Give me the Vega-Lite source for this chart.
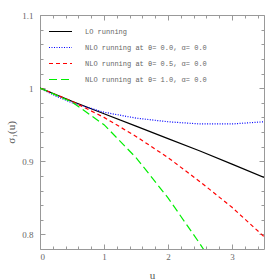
{
  "$schema": "https://vega.github.io/schema/vega-lite/v6.json",
  "width": 224,
  "height": 234,
  "autosize": "none",
  "padding": {"left": 40, "top": 15, "right": 15, "bottom": 30},
  "config": {
    "view": {"stroke": null},
    "font": "Liberation Serif",
    "axis": {"grid": false, "domainColor": "#999", "tickColor": "#999", "labelColor": "#666", "titleColor": "#555", "labelFont": "Liberation Serif", "titleFont": "Liberation Serif", "labelFontSize": 9, "titleFontSize": 11, "titleFontWeight": "normal"},
    "legend": {"labelFont": "Liberation Mono", "labelColor": "#666"}
  },
  "data": {"values": [
    {"u": 0, "v": 1, "s": "LO running"},
    {"u": 0.5, "v": 0.982, "s": "LO running"},
    {"u": 1, "v": 0.965, "s": "LO running"},
    {"u": 1.5, "v": 0.948, "s": "LO running"},
    {"u": 2, "v": 0.931, "s": "LO running"},
    {"u": 2.5, "v": 0.914, "s": "LO running"},
    {"u": 3, "v": 0.896, "s": "LO running"},
    {"u": 3.5, "v": 0.878, "s": "LO running"},
    {"u": 0, "v": 1, "s": "NLO running at θ= 0.0, α= 0.0"},
    {"u": 0.25, "v": 0.989, "s": "NLO running at θ= 0.0, α= 0.0"},
    {"u": 0.5, "v": 0.98, "s": "NLO running at θ= 0.0, α= 0.0"},
    {"u": 1, "v": 0.967, "s": "NLO running at θ= 0.0, α= 0.0"},
    {"u": 1.5, "v": 0.959, "s": "NLO running at θ= 0.0, α= 0.0"},
    {"u": 2, "v": 0.954, "s": "NLO running at θ= 0.0, α= 0.0"},
    {"u": 2.5, "v": 0.951, "s": "NLO running at θ= 0.0, α= 0.0"},
    {"u": 3, "v": 0.951, "s": "NLO running at θ= 0.0, α= 0.0"},
    {"u": 3.5, "v": 0.954, "s": "NLO running at θ= 0.0, α= 0.0"},
    {"u": 0, "v": 1, "s": "NLO running at θ= 0.5, α= 0.0"},
    {"u": 0.5, "v": 0.982, "s": "NLO running at θ= 0.5, α= 0.0"},
    {"u": 1, "v": 0.96, "s": "NLO running at θ= 0.5, α= 0.0"},
    {"u": 1.5, "v": 0.934, "s": "NLO running at θ= 0.5, α= 0.0"},
    {"u": 2, "v": 0.905, "s": "NLO running at θ= 0.5, α= 0.0"},
    {"u": 2.5, "v": 0.872, "s": "NLO running at θ= 0.5, α= 0.0"},
    {"u": 3, "v": 0.837, "s": "NLO running at θ= 0.5, α= 0.0"},
    {"u": 3.5, "v": 0.797, "s": "NLO running at θ= 0.5, α= 0.0"},
    {"u": 0, "v": 1, "s": "NLO running at θ= 1.0, α= 0.0"},
    {"u": 0.5, "v": 0.981, "s": "NLO running at θ= 1.0, α= 0.0"},
    {"u": 1, "v": 0.95, "s": "NLO running at θ= 1.0, α= 0.0"},
    {"u": 1.5, "v": 0.905, "s": "NLO running at θ= 1.0, α= 0.0"},
    {"u": 2, "v": 0.85, "s": "NLO running at θ= 1.0, α= 0.0"},
    {"u": 2.5, "v": 0.787, "s": "NLO running at θ= 1.0, α= 0.0"},
    {"u": 2.7, "v": 0.76, "s": "NLO running at θ= 1.0, α= 0.0"}
  ]},
  "layer": [
    {
      "transform": [{"filter": {"field": "s", "equal": "LO running"}}],
      "mark": {"type": "line", "clip": true, "strokeWidth": 1.2},
      "encoding": {
        "x": {"field": "u", "type": "quantitative", "scale": {"domain": [0, 3.5], "nice": false, "zero": false},
              "axis": {"orient": "bottom", "values": [0, 1, 2, 3], "tickSize": -5, "labelPadding": 8, "title": "u", "titlePadding": 8}},
        "y": {"field": "v", "type": "quantitative", "scale": {"domain": [0.78, 1.1], "nice": false, "zero": false},
              "axis": {"orient": "left", "values": [0.8, 0.9, 1, 1.1], "tickSize": -5, "labelPadding": 12, "title": "σ₁(u)", "titlePadding": 5, "format": "~g"}},
        "color": {"field": "s", "type": "nominal",
                  "scale": {"domain": ["LO running", "NLO running at θ= 0.0, α= 0.0", "NLO running at θ= 0.5, α= 0.0", "NLO running at θ= 1.0, α= 0.0"], "range": ["#000000", "#0000ff", "#ff0000", "#00ee00"]},
                  "legend": {"title": null, "orient": "none", "legendX": 8, "legendY": 4, "symbolType": "stroke", "symbolSize": 529, "symbolStrokeWidth": 1.2, "labelFontSize": 7, "rowPadding": 0, "labelOffset": 12,
                             "encode": {"symbols": {"update": {"stroke": {"scale": "color", "field": "value"}, "strokeDash": {"signal": "datum.value === 'NLO running at θ= 0.0, α= 0.0' ? [1, 1.5] : datum.value === 'NLO running at θ= 0.5, α= 0.0' ? [4, 3] : datum.value === 'NLO running at θ= 1.0, α= 0.0' ? [8, 4] : [1, 0]"}}}}}}
      }
    },
    {
      "transform": [{"filter": {"field": "s", "equal": "NLO running at θ= 0.0, α= 0.0"}}],
      "mark": {"type": "line", "clip": true, "strokeWidth": 1.2, "strokeDash": [1, 1.5]},
      "encoding": {
        "x": {"field": "u", "type": "quantitative", "axis": null},
        "y": {"field": "v", "type": "quantitative", "axis": null},
        "color": {"field": "s", "type": "nominal"}
      }
    },
    {
      "transform": [{"filter": {"field": "s", "equal": "NLO running at θ= 0.5, α= 0.0"}}],
      "mark": {"type": "line", "clip": true, "strokeWidth": 1.2, "strokeDash": [4, 3]},
      "encoding": {
        "x": {"field": "u", "type": "quantitative", "axis": null},
        "y": {"field": "v", "type": "quantitative", "axis": null},
        "color": {"field": "s", "type": "nominal"}
      }
    },
    {
      "transform": [{"filter": {"field": "s", "equal": "NLO running at θ= 1.0, α= 0.0"}}],
      "mark": {"type": "line", "clip": true, "strokeWidth": 1.2, "strokeDash": [8, 4]},
      "encoding": {
        "x": {"field": "u", "type": "quantitative", "axis": null},
        "y": {"field": "v", "type": "quantitative", "axis": null},
        "color": {"field": "s", "type": "nominal"}
      }
    },
    {
      "mark": {"type": "point", "opacity": 0},
      "encoding": {
        "x": {"field": "u", "type": "quantitative", "axis": {"orient": "top", "values": [0, 1, 2, 3], "tickSize": -5, "labels": false, "title": null}},
        "y": {"field": "v", "type": "quantitative", "axis": {"orient": "right", "values": [0.8, 0.9, 1, 1.1], "tickSize": -5, "labels": false, "title": null}}
      }
    },
    {
      "mark": {"type": "point", "opacity": 0},
      "encoding": {
        "x": {"field": "u", "type": "quantitative", "axis": {"orient": "bottom", "values": [0.2, 0.4, 0.6, 0.8, 1.2, 1.4, 1.6, 1.8, 2.2, 2.4, 2.6, 2.8, 3.2, 3.4], "tickSize": -3, "labels": false, "domain": false, "title": null}},
        "y": {"field": "v", "type": "quantitative", "axis": {"orient": "left", "values": [0.82, 0.84, 0.86, 0.88, 0.92, 0.94, 0.96, 0.98, 1.02, 1.04, 1.06, 1.08], "tickSize": -3, "labels": false, "domain": false, "title": null}}
      }
    },
    {
      "mark": {"type": "point", "opacity": 0},
      "encoding": {
        "x": {"field": "u", "type": "quantitative", "axis": {"orient": "top", "values": [0.2, 0.4, 0.6, 0.8, 1.2, 1.4, 1.6, 1.8, 2.2, 2.4, 2.6, 2.8, 3.2, 3.4], "tickSize": -3, "labels": false, "domain": false, "title": null}},
        "y": {"field": "v", "type": "quantitative", "axis": {"orient": "right", "values": [0.82, 0.84, 0.86, 0.88, 0.92, 0.94, 0.96, 0.98, 1.02, 1.04, 1.06, 1.08], "tickSize": -3, "labels": false, "domain": false, "title": null}}
      }
    }
  ],
  "resolve": {"axis": {"x": "independent", "y": "independent"}}
}
